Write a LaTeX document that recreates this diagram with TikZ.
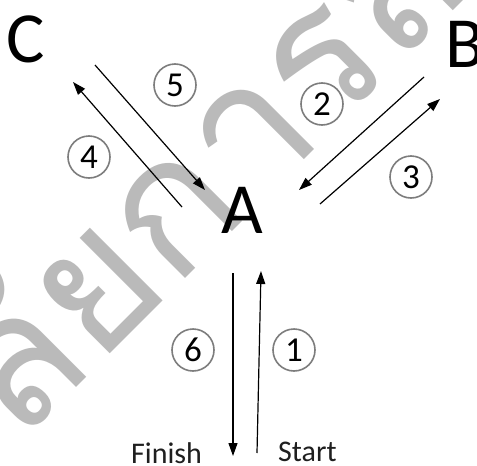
\documentclass[tikz,border=0pt]{standalone}
\usepackage{fontspec}
\setmainfont{Carlito}
\newfontfamily\thaifont[Script=Thai]{Loma}
\usetikzlibrary{arrows.meta}
\definecolor{wm}{RGB}{186,186,186}
\definecolor{ringgray}{RGB}{125,125,125}
\tikzset{
  big/.style={inner sep=0pt, anchor=base west, font=\fontsize{72}{72}\selectfont},
  lbl/.style={inner sep=0pt, anchor=base west, text=black!88, font=\fontsize{30}{30}\selectfont},
  num/.style={circle, draw=ringgray, line width=1.6pt, minimum size=42pt, inner sep=0pt, font=\fontsize{35}{35}\selectfont},
  arr/.style={line width=1.2pt, -{Triangle[length=13pt,width=9pt]}},
  wmtext/.style={text=wm, inner sep=0pt, anchor=base west, rotate=45, font=\thaifont\fontsize{185}{185}\selectfont}
}
\begin{document}
\begin{tikzpicture}[x=1pt,y=-1pt]
\useasboundingbox (0,0) rectangle (477,466);
\fill[white] (0,0) rectangle (477,466);
\node[wmtext] (wmk) at (17,447) {ลัยการสาธารณสุข};
\node[big] (C) at (6,62) {C};
\node[big] (B) at (445,67) {B};
\node[big] (A) at (221,233) {A};
\node[lbl] (fin) at (131,463) {Finish};
\node[lbl] (sta) at (278,461) {Start};
\node[num] (n5) at (175,85) {5};
\node[num] (n4) at (89,157) {4};
\node[num] (n2) at (322,104) {2};
\node[num] (n3) at (411,177) {3};
\node[num] (n6) at (193,350) {6};
\node[num] (n1) at (294,350) {1};
\coordinate (c5s) at (95,65);
\coordinate (c5e) at (205,190);
\coordinate (c4s) at (182,207);
\coordinate (c4e) at (73,82);
\coordinate (c2s) at (424,77);
\coordinate (c2e) at (299,190);
\coordinate (c3s) at (320,204);
\coordinate (c3e) at (440,99);
\coordinate (c6s) at (233,273);
\coordinate (c6e) at (233,456);
\coordinate (c1s) at (257,453);
\coordinate (c1e) at (261,271);
\draw[arr] (c5s) -- (c5e);
\draw[arr] (c4s) -- (c4e);
\draw[arr] (c2s) -- (c2e);
\draw[arr] (c3s) -- (c3e);
\draw[arr] (c6s) -- (c6e);
\draw[arr] (c1s) -- (c1e);
\end{tikzpicture}
\end{document}
